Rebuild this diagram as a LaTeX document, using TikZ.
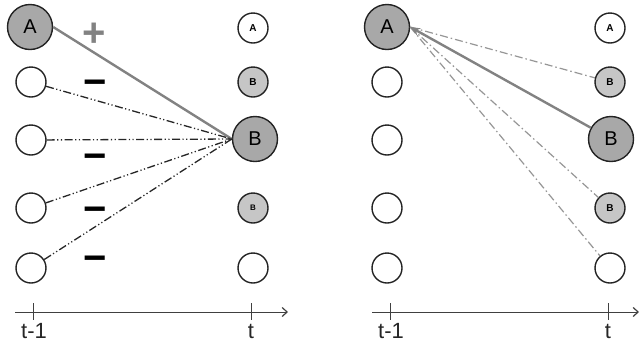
\documentclass[tikz,border=0pt]{standalone}
\usepackage{fontspec}
\setmainfont{Liberation Sans}
\usetikzlibrary{arrows.meta}
\definecolor{bigfill}{RGB}{168,168,168}
\definecolor{smallfill}{RGB}{198,198,198}
\definecolor{edgec}{RGB}{35,35,35}
\definecolor{linegray}{RGB}{130,130,130}
\definecolor{dashgray}{RGB}{150,150,150}
\tikzset{
  bignode/.style={circle, draw=edgec, line width=1.4pt, fill=bigfill, minimum size=45pt, inner sep=0pt, font=\fontsize{20}{20}\selectfont},
  smallnode/.style={circle, draw=edgec, line width=1.4pt, minimum size=30pt, inner sep=0pt, font=\bfseries\fontsize{10}{10}\selectfont},
  smallgray/.style={smallnode, fill=smallfill},
  ddline/.style={draw=black!85, line width=1.3pt, dash pattern=on 8pt off 2.5pt on 1.2pt off 2.5pt on 1.2pt off 2.5pt},
  dline/.style={draw=dashgray, line width=1.2pt, dash pattern=on 8pt off 3pt on 1.5pt off 3pt},
  solidg/.style={draw=linegray, line width=2.4pt},
  axisline/.style={draw=black!75, line width=1pt, -{Straight Barb[length=5pt,width=9pt,line width=1.2pt]}},
  tickline/.style={draw=black!75, line width=1pt},
  ticklabel/.style={font=\fontsize{22}{22}\selectfont, text=black!85, inner sep=0pt},
  plussign/.style={text=linegray, font=\bfseries\fontsize{40}{40}\selectfont, inner sep=0pt},
  minussign/.style={text=black, font=\bfseries\fontsize{40}{40}\selectfont, inner sep=0pt}
}
\begin{document}
\begin{tikzpicture}[x=1pt,y=-1pt]
\useasboundingbox (0,0) rectangle (639,349);
% ---------- left panel ----------
\node[bignode] (A1) at (30,27) {A};
\node[smallnode] (L2) at (31,82) {};
\node[smallnode] (L3) at (31,140) {};
\node[smallnode] (L4) at (31,208) {};
\node[smallnode] (L5) at (31,268) {};
\node[smallnode] (RA1) at (253,28) {A};
\node[smallgray] (RB1) at (253,82) {B};
\node[bignode] (B1) at (255,139) {B};
\node[smallgray, font=\bfseries\fontsize{8}{8}\selectfont] (RB1b) at (253,208) {B};
\node[smallnode] (RE1) at (253,268) {};
\draw[solidg] (A1.east) -- (B1.west);
\draw[ddline] (L2) -- (B1.west);
\draw[ddline] (L3) -- (B1.west);
\draw[ddline] (L4) -- (B1.west);
\draw[ddline] (L5) -- (B1.west);
\node[plussign] (plus) at (94,35) {+};
\node[minussign] (m1) at (95,88) {−};
\node[minussign] (m2) at (95,162) {−};
\node[minussign] (m3) at (95,215) {−};
\node[minussign] (m4) at (95,264) {−};
\coordinate (ax1s) at (15,312);
\coordinate (ax1e) at (288,312);
\draw[axisline] (ax1s) -- (ax1e);
\coordinate (t1a) at (33,303);
\coordinate (t1b) at (33,320);
\coordinate (t2a) at (251,303);
\coordinate (t2b) at (251,320);
\draw[tickline] (t1a) -- (t1b);
\draw[tickline] (t2a) -- (t2b);
\node[ticklabel] (lab1) at (34,331) {t-1};
\node[ticklabel] (lab2) at (251,331) {t};
% ---------- right panel ----------
\node[bignode] (A2) at (387,27) {A};
\node[smallnode] (P2) at (387,82) {};
\node[smallnode] (P3) at (387,140) {};
\node[smallnode] (P4) at (387,208) {};
\node[smallnode] (P5) at (387,268) {};
\node[smallnode] (RA2) at (610,28) {A};
\node[smallgray] (RB2) at (610,82) {B};
\node[bignode] (B2) at (611,139) {B};
\node[smallgray] (RB2b) at (610,208) {B};
\node[smallnode] (RE2) at (610,268) {};
\draw[dline] (A2.east) -- (RB2);
\draw[dline] (A2.east) -- (RB2b);
\draw[dline] (A2.east) -- (RE2);
\draw[solidg, -{Stealth[length=10pt,width=8pt]}] (B2) -- (A2.east);
\coordinate (ax2s) at (372,312);
\coordinate (ax2e) at (639,312);
\draw[axisline] (ax2s) -- (ax2e);
\coordinate (t3a) at (390,303);
\coordinate (t3b) at (390,320);
\coordinate (t4a) at (608,303);
\coordinate (t4b) at (608,320);
\draw[tickline] (t3a) -- (t3b);
\draw[tickline] (t4a) -- (t4b);
\node[ticklabel] (lab3) at (391,331) {t-1};
\node[ticklabel] (lab4) at (608,331) {t};
\end{tikzpicture}
\end{document}
